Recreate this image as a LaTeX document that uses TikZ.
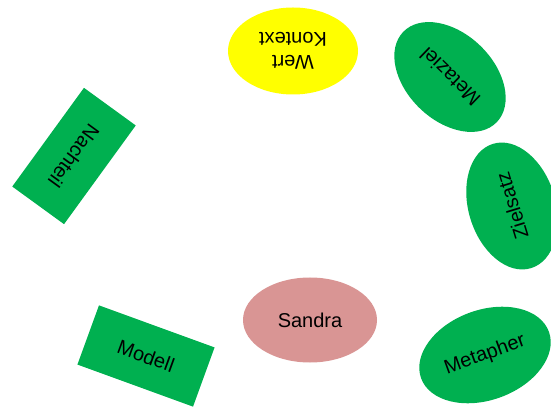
\documentclass[tikz,border=0pt]{standalone}
\usepackage{fontspec}
\setmainfont{Liberation Sans}
\usetikzlibrary{shapes.geometric}
\definecolor{mapgreen}{RGB}{0,176,80}
\definecolor{mapyellow}{RGB}{255,255,0}
\definecolor{maprose}{RGB}{217,149,148}
\begin{document}
\begin{tikzpicture}[x=1pt,y=1pt,
		every node/.style={font=\fontsize{20}{23}\selectfont, inner sep=0pt, align=center},
		blob/.style={ellipse, minimum width=130pt, minimum height=87pt},
		slab/.style={rectangle, minimum width=122pt, minimum height=64pt, fill=mapgreen}]
	\useasboundingbox (0,0) rectangle (551,407);
	\node[blob, fill=mapyellow, rotate=180] (wert) at (293,356) {Wert\\Kontext};
	\node[blob, fill=mapgreen, rotate=136] (metaziel) at (450,330) {Metaziel};
	\node[blob, fill=mapgreen, rotate=107] (zielsatz) at (512,201) {Zielsatz};
	\node[blob, fill=maprose, minimum width=134pt, minimum height=85pt] (sandra) at (310,87) {Sandra};
	\node[blob, fill=mapgreen, rotate=20, minimum width=136pt, minimum height=90pt] (metapher) at (485,52) {Metapher};
	\node[slab, rotate=-126] (nachteil) at (74,251) {Nachteil};
	\node[slab, rotate=-20, minimum width=123pt, minimum height=63pt] (modell) at (146,51) {Modell};
\end{tikzpicture}
\end{document}
